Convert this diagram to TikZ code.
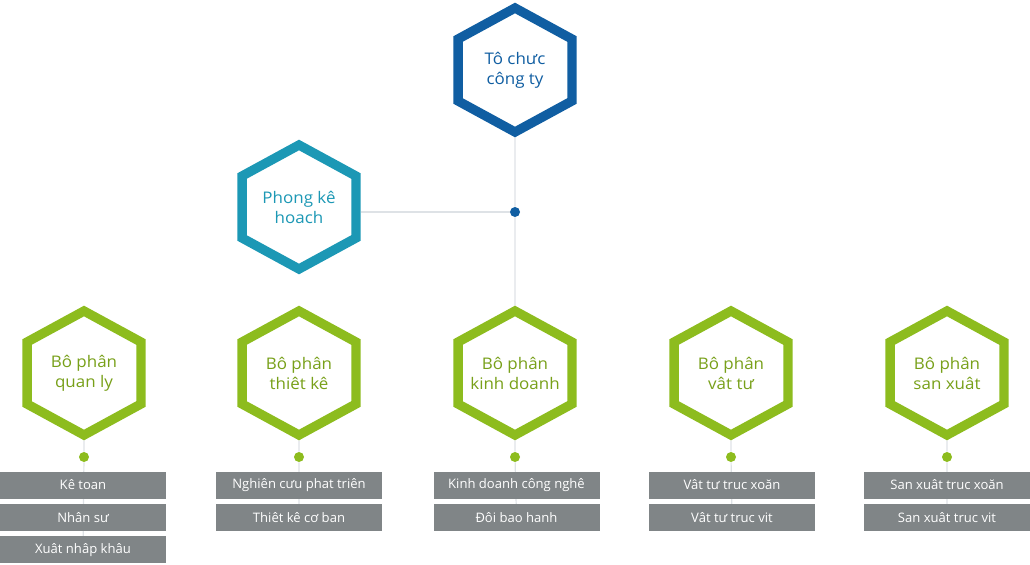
\documentclass[tikz,border=0pt]{standalone}
\usepackage{fontspec}
\setmainfont{Open Sans}
\usetikzlibrary{positioning, shapes.geometric, backgrounds}
\definecolor{orgblue}{RGB}{16,94,162}
\definecolor{orgteal}{RGB}{28,152,181}
\definecolor{orggreen}{RGB}{141,188,30}
\definecolor{orggrey}{RGB}{128,133,135}
\definecolor{orgline}{RGB}{222,226,230}
\tikzset{
    hexstyle/.style={regular polygon, regular polygon sides=6, shape border rotate=30, xscale=1.06, draw=#1, fill=white, line width=7pt, minimum size=93pt, inner sep=-12pt, align=center, text=#1, font=\fontsize{12}{15}\selectfont},
    hexgreen/.style={hexstyle=orggreen, text=orggreen!85!black},
    joint/.style={circle, fill=#1, minimum size=7.5pt, inner sep=0pt},
    subbox/.style={rectangle, fill=orggrey, text=white, minimum width=124.5pt, minimum height=20.25pt, inner sep=0pt, outer sep=0pt, font=\fontsize{9.8}{11}\selectfont},
    link/.style={draw=orgline, line width=0.9pt}
}
\begin{document}
\begin{tikzpicture}[x=0.75pt, y=-0.75pt, node distance=4.1pt]
    \useasboundingbox (0,0) rectangle (1030,564);
    \node[hexstyle=orgblue] at (515,70) (org) {Tô chưc\\công ty};
    \node[joint=orgblue] at (515,212) (hub) {};
    \node[hexstyle=orgteal] at (299,207) (plan) {Phong kê\\hoach};
    % departments
    \node[hexgreen] at (84,373) (dql) {Bô phân\\quan ly};
    \node[hexgreen] at (299,373) (dtk) {Bô phân\\thiêt kê};
    \node[hexgreen] at (515,373) (dkd) {Bô phân\\kinh doanh};
    \node[hexgreen] at (731,373) (dvt) {Bô phân\\vât tư};
    \node[hexgreen] at (947,373) (dsx) {Bô phân\\san xuât};
    \node[joint=orggreen] at (84,457) (jql) {};
    \node[joint=orggreen] at (299,457) (jtk) {};
    \node[joint=orggreen] at (515,457) (jkd) {};
    \node[joint=orggreen] at (731,457) (jvt) {};
    \node[joint=orggreen] at (947,457) (jsx) {};
    % sub units
    \node[subbox] at (83,485) (ql1) {Kê toan};
    \node[subbox, below=of ql1] (ql2) {Nhân sư};
    \node[subbox, below=of ql2] (ql3) {Xuât nhâp khâu};
    \node[subbox] at (299,485) (tk1) {Nghiên cưu phat triên};
    \node[subbox, below=of tk1] (tk2) {Thiêt kê cơ ban};
    \node[subbox] at (516.5,485) (kd1) {Kinh doanh công nghê};
    \node[subbox, below=of kd1] (kd2) {Đôi bao hanh};
    \node[subbox] at (732,485) (vt1) {Vât tư truc xoăn};
    \node[subbox, below=of vt1] (vt2) {Vât tư truc vit};
    \node[subbox] at (947,485) (sx1) {San xuât truc xoăn};
    \node[subbox, below=of sx1] (sx2) {San xuât truc vit};
    \begin{pgfonlayer}{background}
        \draw[link] (org) -- (hub) -- (dkd);
        \draw[link] (hub) -- (hub -| plan.east);
        \draw[link] (dql) -- (jql) -- (ql3);
        \draw[link] (dtk) -- (jtk) -- (tk2);
        \draw[link] (dkd) -- (jkd) -- (kd2);
        \draw[link] (dvt) -- (jvt) -- (vt2);
        \draw[link] (dsx) -- (jsx) -- (sx2);
    \end{pgfonlayer}
\end{tikzpicture}
\end{document}
